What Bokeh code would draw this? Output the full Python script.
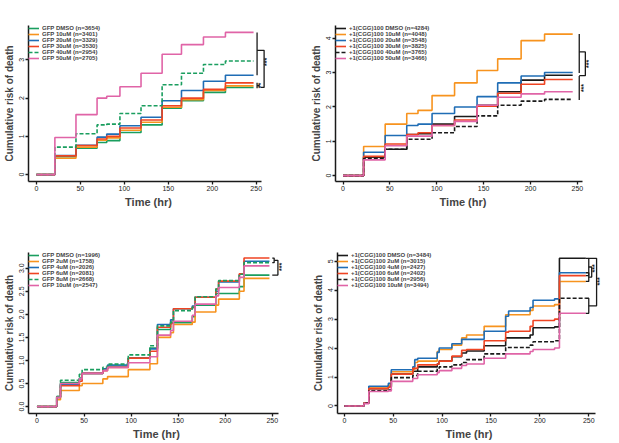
import math
from bokeh.plotting import figure
from bokeh.layouts import row, column
from bokeh.models import Label, FixedTicker, Range1d, NumeralTickFormatter
from bokeh.embed import file_html
from bokeh.resources import INLINE

FONT = "Liberation Sans"
GREEN = "#1a9e5f"; ORANGE = "#f7931e"; BLUE = "#1f6db5"; RED = "#ef4423"; PINK = "#e064a7"; BLACK = "#1a1a1a"

x_ticks = [0, 50, 100, 150, 200, 250]

# ---------------- Panel A: SRPIN340: GFP ----------------
times_A = [0, 21, 45, 69, 80, 95, 119, 143, 165, 190, 215, 247]
labels_A = ["GFP DMSO (n=3654)", "GFP 10uM (n=3401)", "GFP 20uM (n=3329)",
            "GFP 30uM (n=3530)", "GFP 40uM (n=2954)", "GFP 50uM (n=2705)"]
a_dmso = [0, 0.47, 0.69, 0.84, 0.89, 1.10, 1.30, 1.74, 1.93, 2.15, 2.28, 2.28]
a_10 = [0, 0.43, 0.72, 0.90, 0.96, 1.16, 1.37, 1.76, 1.96, 2.20, 2.32, 2.32]
a_20 = [0, 0.50, 0.77, 0.98, 1.06, 1.28, 1.50, 1.93, 2.20, 2.44, 2.60, 2.60]
a_30 = [0, 0.49, 0.76, 0.93, 1.00, 1.22, 1.43, 1.80, 2.00, 2.23, 2.40, 2.40]
a_40 = [0, 0.72, 1.07, 1.30, 1.32, 1.60, 1.80, 2.35, 2.65, 2.88, 2.97, 2.97]
a_50 = [0, 0.97, 1.57, 2.00, 2.05, 2.30, 2.65, 3.15, 3.40, 3.60, 3.72, 3.72]
yticks_A = [0, 1, 2, 3]
brk_A_xs = [[251, 251], [251, 259, 259, 255], [251, 251], [251, 254]]
brk_A_ys = [[3.72, 2.60], [3.25, 3.25, 2.28, 2.28], [2.40, 2.26], [2.33, 2.33]]
star_A_x = [262, 255]; star_A_y = [2.95, 2.33]; star_A_t = ["***", "**"]

# ---------------- Panel B: SRPIN340: +1 (CGG)100 ----------------
times_B = [0, 22, 45, 68, 80, 95, 119, 143, 165, 190, 215, 245]
labels_B = ["+1(CGG)100 DMSO (n=4284)", "+1(CGG)100 10uM (n=4048)", "+1(CGG)100 20uM (n=3548)",
            "+1(CGG)100 30uM (n=3825)", "+1(CGG)100 40uM (n=3765)", "+1(CGG)100 50uM (n=3466)"]
b_dmso = [0, 0.54, 0.77, 1.20, 1.22, 1.50, 1.72, 2.05, 2.44, 2.78, 2.92, 2.92]
b_10 = [0, 0.85, 1.50, 1.81, 1.90, 2.33, 2.70, 3.06, 3.40, 3.93, 4.12, 4.12]
b_20 = [0, 0.68, 1.17, 1.46, 1.50, 1.81, 2.00, 2.30, 2.70, 2.90, 3.00, 3.00]
b_30 = [0, 0.56, 0.92, 1.20, 1.25, 1.46, 1.62, 2.02, 2.40, 2.66, 2.80, 2.80]
b_40 = [0, 0.50, 0.77, 1.06, 1.06, 1.25, 1.43, 1.74, 2.05, 2.17, 2.22, 2.22]
b_50 = [0, 0.46, 0.87, 1.15, 1.15, 1.46, 1.58, 2.05, 2.28, 2.38, 2.44, 2.44]
yticks_B = [0, 1, 2, 3, 4]
brk_B_xs = [[252, 252], [252, 258.5, 258.5, 252], [252, 252]]
brk_B_ys = [[4.12, 2.99], [3.60, 3.60, 2.91, 2.91], [2.90, 2.20]]
star_B_x = [262, 256]; star_B_y = [3.25, 2.55]; star_B_t = ["***", "***"]

# ---------------- Panel C: SPHINX31: GFP ----------------
times_C = [0, 21, 25, 45, 48, 70, 75, 97, 120, 128, 142, 145, 165, 168, 190, 193, 215, 220, 247]
labels_C = ["GFP DMSO (n=1996)", "GFP 2uM (n=1758)", "GFP 4uM (n=2026)",
            "GFP 6uM (n=2081)", "GFP 8uM (n=2668)", "GFP 10uM (n=2547)"]
c_dmso = [0, 0.22, 0.52, 0.62, 0.72, 0.82, 0.88, 1.05, 1.27, 1.67, 1.82, 1.82, 1.95, 2.20, 2.45, 2.45, 2.60, 2.85, 2.85]
c_2 = [0, 0.15, 0.35, 0.45, 0.50, 0.60, 0.65, 0.80, 0.93, 1.50, 1.60, 1.78, 1.83, 2.05, 2.20, 2.33, 2.50, 2.78, 2.78]
c_4 = [0, 0.20, 0.47, 0.60, 0.72, 0.82, 0.90, 1.05, 1.25, 1.78, 1.88, 2.12, 2.18, 2.37, 2.50, 2.70, 2.87, 3.15, 3.15]
c_6 = [0, 0.20, 0.45, 0.55, 0.72, 0.78, 0.85, 1.05, 1.20, 1.72, 1.80, 2.12, 2.15, 2.37, 2.55, 2.72, 2.88, 3.22, 3.22]
c_8 = [0, 0.22, 0.57, 0.70, 0.80, 0.85, 0.92, 1.12, 1.32, 1.75, 1.83, 2.08, 2.15, 2.38, 2.55, 2.73, 2.87, 3.12, 3.12]
c_10 = [0, 0.20, 0.50, 0.60, 0.72, 0.78, 0.85, 0.95, 1.08, 1.55, 1.65, 1.85, 1.98, 2.22, 2.40, 2.58, 2.80, 3.05, 3.05]
yticks_C = [0, 0.5, 1.0, 1.5, 2.0, 2.5, 3.0]
brk_C_xs = [[250, 252, 252, 250], [252, 256, 256, 250]]
brk_C_ys = [[3.22, 3.22, 3.12, 3.12], [3.17, 3.17, 2.85, 2.85]]
star_C_x = [260]; star_C_y = [3.03]; star_C_t = ["***"]

# ---------------- Panel D: SPHINX31: +1 (CGG)100 ----------------
times_D = [0, 20, 25, 45, 48, 70, 72, 75, 95, 97, 110, 120, 125, 143, 165, 168, 190, 193, 215, 220, 247]
labels_D = ["+1(CGG)100 DMSO (n=3484)", "+1(CGG)100 2uM (n=3015)", "+1(CGG)100 4uM (n=2427)",
            "+1(CGG)100 6uM (n=2402)", "+1(CGG)100 8uM (n=2956)", "+1(CGG)100 10uM (n=3494)"]
d_dmso = [0, 0.10, 0.60, 0.70, 1.10, 1.20, 1.20, 1.35, 1.45, 1.55, 1.70, 1.83, 1.90, 2.08, 2.35, 2.35, 2.45, 2.70, 2.73, 5.10, 5.10]
d_2 = [0, 0.10, 0.62, 0.72, 1.18, 1.25, 1.50, 1.55, 1.88, 1.95, 2.10, 2.35, 2.45, 2.75, 3.15, 3.15, 3.30, 3.45, 3.50, 4.30, 4.30]
d_4 = [0, 0.10, 0.68, 0.78, 1.25, 1.35, 1.60, 1.65, 1.85, 2.00, 2.15, 2.30, 2.30, 2.58, 3.10, 3.28, 3.40, 3.65, 3.70, 4.60, 4.60]
d_6 = [0, 0.10, 0.60, 0.65, 1.10, 1.30, 1.30, 1.42, 1.45, 1.55, 1.72, 1.92, 1.95, 2.25, 2.55, 2.58, 2.75, 2.95, 3.00, 4.50, 4.50]
d_8 = [0, 0.10, 0.52, 0.55, 0.98, 1.05, 1.05, 1.20, 1.28, 1.35, 1.42, 1.50, 1.60, 1.80, 2.02, 2.02, 2.10, 2.22, 2.25, 3.72, 3.72]
d_10 = [0, 0.08, 0.50, 0.52, 0.85, 0.95, 0.95, 1.08, 1.15, 1.22, 1.30, 1.40, 1.45, 1.65, 1.80, 1.80, 1.88, 1.95, 2.00, 3.20, 3.20]
yticks_D = [0, 1, 2, 3, 4, 5]
brk_D_xs = [[247, 250, 250, 247], [247, 250, 250, 247], [250, 253, 253, 250], [247, 250, 250, 247], [250, 258, 258, 250]]
brk_D_ys = [[5.10, 5.10, 4.50, 4.50], [4.60, 4.60, 4.30, 4.30], [4.80, 4.80, 4.45, 4.45], [3.72, 3.72, 3.20, 3.20], [5.10, 5.10, 3.46, 3.46]]
star_D_x = [255.5, 260.5]; star_D_y = [4.75, 4.30]; star_D_t = ["***", "***"]


def make_panel(letter, title, times, series, yticks, yfmt, xr, xb, yr, yb, borders,
               bxs, bys, sx, sy, st, letter_off, title_off):
    left, right, top, bottom = borders
    p = figure(width=301, height=221, output_backend="svg", toolbar_location=None,
               x_range=Range1d(*xr), y_range=Range1d(*yr),
               min_border_left=left, min_border_right=right,
               min_border_top=top, min_border_bottom=bottom)
    p.outline_line_color = None
    p.xgrid.grid_line_color = None
    p.ygrid.grid_line_color = None

    for lab, vals, color, dash in series:
        p.step(times, vals, mode="after", line_color=color, line_width=1.6,
               line_dash=dash, legend_label=lab)

    p.multi_line(bxs, bys, line_color=BLACK, line_width=1.3)
    p.text(sx, sy, text=st, angle=math.pi / 2, text_font_size="7px",
           text_font_style="bold", text_align="center", text_baseline="middle",
           text_color=BLACK)

    for ax in (p.xaxis[0], p.yaxis[0]):
        ax.axis_line_width = 1.5
        ax.axis_line_color = BLACK
        ax.major_tick_line_width = 1.3
        ax.major_tick_line_color = BLACK
        ax.major_tick_in = 0
        ax.major_tick_out = 3
        ax.minor_tick_line_color = None
        ax.major_label_text_font = FONT
        ax.major_label_text_font_size = "7px"
        ax.major_label_text_color = "#222222"
        ax.major_label_standoff = 1
        ax.axis_label_text_font = FONT
        ax.axis_label_text_font_style = "bold"
        ax.axis_label_standoff = 2
    p.xaxis.axis_label = "Time (hr)"
    p.xaxis.axis_label_text_font_size = "11px"
    p.yaxis.axis_label = "Cumulative risk of death"
    p.yaxis.axis_label_text_font_size = "10px"
    p.xaxis.ticker = FixedTicker(ticks=x_ticks)
    p.yaxis.ticker = FixedTicker(ticks=yticks)
    p.xaxis.bounds = xb
    p.yaxis.bounds = yb
    p.yaxis.major_label_orientation = "vertical"
    if yfmt:
        p.yaxis.formatter = NumeralTickFormatter(format=yfmt)

    lg = p.legend[0]
    lg.location = "top_left"
    lg.margin = 0
    lg.padding = 1
    lg.spacing = 0
    lg.label_height = 6
    lg.glyph_height = 6
    lg.glyph_width = 11
    lg.label_standoff = 3
    lg.label_text_font = FONT
    lg.label_text_font_size = "6px"
    lg.label_text_font_style = "bold"
    lg.background_fill_alpha = 0
    lg.border_line_color = None

    # panel title and panel letter, drawn above the frame (overlay level is not clipped)
    p.add_layout(Label(x=(xb[0] + xb[1]) / 2, y=yr[1], x_offset=title_off[0], y_offset=title_off[1],
                       text=title, text_font=FONT, text_font_size="12px",
                       text_font_style="bold", text_align="center", text_baseline="middle",
                       level="overlay"))
    p.add_layout(Label(x=xr[0], y=yr[1], x_offset=letter_off[0], y_offset=letter_off[1],
                       text=letter, text_font=FONT, text_font_size="16px",
                       text_font_style="bold", text_align="left", text_baseline="middle",
                       level="overlay"))
    return p


pA = make_panel("A", "SRPIN340: GFP", times_A,
                [(labels_A[0], a_dmso, GREEN, "solid"), (labels_A[1], a_10, ORANGE, "solid"),
                 (labels_A[2], a_20, BLUE, "solid"), (labels_A[3], a_30, RED, "solid"),
                 (labels_A[4], a_40, GREEN, "4 2"), (labels_A[5], a_50, PINK, "solid")],
                yticks_A, None, (-9, 264), (-9, 256), (-0.18, 3.9), (-0.18, 3.9),
                (26, 33, 25, 40), brk_A_xs, brk_A_ys, star_A_x, star_A_y, star_A_t,
                (-24, 15), (-13, 13))

pB = make_panel("B", "SRPIN340: +1 (CGG)100", times_B,
                [(labels_B[0], b_dmso, BLACK, "solid"), (labels_B[1], b_10, ORANGE, "solid"),
                 (labels_B[2], b_20, BLUE, "solid"), (labels_B[3], b_30, RED, "solid"),
                 (labels_B[4], b_40, BLACK, "4 2"), (labels_B[5], b_50, PINK, "solid")],
                yticks_B, None, (-8, 264), (-8, 255), (-0.17, 4.37), (-0.17, 4.37),
                (34, 12, 22, 39), brk_B_xs, brk_B_ys, star_B_x, star_B_y, star_B_t,
                (-30, 13), (-5, 12))

pC = make_panel("C", "SPHINX31: GFP", times_C,
                [(labels_C[0], c_dmso, GREEN, "solid"), (labels_C[1], c_2, ORANGE, "solid"),
                 (labels_C[2], c_4, BLUE, "solid"), (labels_C[3], c_6, RED, "solid"),
                 (labels_C[4], c_8, GREEN, "4 2"), (labels_C[5], c_10, PINK, "solid")],
                yticks_C, "0.0", (-9, 263), (-9, 257), (-0.15, 3.34), (-0.15, 3.34),
                (26, 17, 31, 24), brk_C_xs, brk_C_ys, star_C_x, star_C_y, star_C_t,
                (-24, 21), (-13, 14))

pD = make_panel("D", "SPHINX31: +1 (CGG)100", times_D,
                [(labels_D[0], d_dmso, BLACK, "solid"), (labels_D[1], d_2, ORANGE, "solid"),
                 (labels_D[2], d_4, BLUE, "solid"), (labels_D[3], d_6, RED, "solid"),
                 (labels_D[4], d_8, BLACK, "4 2"), (labels_D[5], d_10, PINK, "solid")],
                yticks_D, None, (-7, 262), (-7, 257), (-0.26, 5.3), (-0.26, 5.3),
                (36, 2, 26, 25), brk_D_xs, brk_D_ys, star_D_x, star_D_y, star_D_t,
                (-32, 17), (-4, 12))

layout = column(row(pA, pB), row(pC, pD))
open("out.html", "w").write(file_html(layout, INLINE))
